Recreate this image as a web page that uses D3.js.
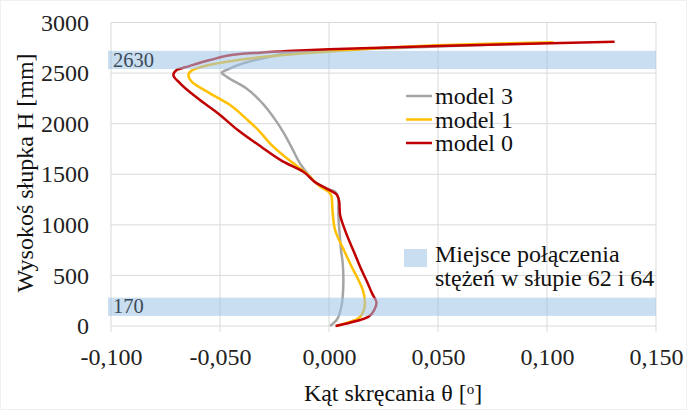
<!DOCTYPE html>
<html>
<head>
<meta charset="utf-8">
<script src="https://cdn.jsdelivr.net/npm/d3@7"></script>
<style>
  body { margin: 0; background: #fff; }
  text { font-family: "Liberation Serif", "Times New Roman", serif; }
</style>
</head>
<body>
<div id="chart"></div>
<script>
// data: theta [deg] and height H [mm], bottom to top
var model0Theta = [0.003, 0.018, 0.021, 0.0218, 0.0198, 0.0178, 0.015, 0.0119, 0.0073, 0.005, 0.0047, 0.0035, 0.0005, -0.0056, -0.0118, -0.021, -0.031, -0.042, -0.050, -0.0592, -0.0683, -0.0714, -0.0699, -0.066, -0.0546, -0.0408, -0.0317, -0.0164, 0.000, 0.050, 0.131];
var model0H     = [0, 90, 170, 230, 320, 420, 550, 710, 950, 1110, 1230, 1300, 1340, 1410, 1525, 1625, 1770, 1940, 2086, 2234, 2399, 2481, 2531, 2557, 2629, 2689, 2702, 2721, 2735, 2768, 2810];

var model1Theta = [0.0035, 0.0135, 0.0157, 0.0165, 0.0155, 0.0135, 0.0104, 0.0068, 0.0028, 0.0017, 0.0012, -0.0003, -0.0041, -0.0103, -0.0164, -0.0271, -0.0324, -0.0378, -0.0454, -0.0546, -0.063, -0.0645, -0.063, -0.0607, -0.0469, -0.0317, -0.0164, 0.005, 0.0693, 0.1029];
var model1H     = [0, 76, 141, 224, 356, 455, 586, 751, 949, 1114, 1278, 1328, 1380, 1509, 1608, 1806, 1937, 2045, 2185, 2300, 2415, 2481, 2524, 2547, 2613, 2656, 2686, 2721, 2788, 2804];

var model3Theta = [0.0005, 0.0035, 0.0053, 0.0063, 0.0066, 0.0063, 0.0055, 0.005, 0.0043, 0.0043, 0.0028, -0.0011, -0.0056, -0.0092, -0.0133, -0.0168, -0.0205, -0.025, -0.0305, -0.038, -0.0469, -0.0492, -0.0469, -0.0393, -0.0271, -0.0164, 0.005, 0.05, 0.098];
var model3H     = [0, 59, 158, 290, 455, 620, 751, 883, 1114, 1262, 1328, 1361, 1411, 1490, 1608, 1750, 1900, 2050, 2201, 2350, 2464, 2504, 2531, 2597, 2662, 2702, 2728, 2762, 2798];

var seriesNames = ["model 3", "model 1", "model 0"];
var seriesColors = ["#a5a5a5", "#ffc000", "#c00000"];

// bands: brace connections
var bandFrom = [100, 2540];
var bandTo = [280, 2720];
var bandLabels = ["170", "2630"];

var xTicks = [-0.1, -0.05, 0, 0.05, 0.1, 0.15];
var yTicks = [0, 500, 1000, 1500, 2000, 2500, 3000];

var svgWidth = 687;
var svgHeight = 410;
var margin = { top: 22.5, right: 31, bottom: 84, left: 111 };
var chartWidth = svgWidth - margin.left - margin.right;
var chartHeight = svgHeight - margin.top - margin.bottom;

var svg = d3.select("#chart")
    .append("svg")
    .attr("width", svgWidth)
    .attr("height", svgHeight);

svg.append("rect")
    .attr("x", 0.5).attr("y", 0.5)
    .attr("width", svgWidth - 1).attr("height", svgHeight - 1)
    .attr("fill", "none")
    .attr("stroke", "#f0f0f0");

var chart = svg.append("g").attr("transform", `translate(${margin.left},${margin.top})`);

var xScale = d3.scaleLinear().domain([-0.1, 0.15]).range([0, chartWidth]);
var yScale = d3.scaleLinear().domain([0, 3000]).range([chartHeight, 0]);

var locale = d3.formatLocale({ decimal: ",", thousands: "", grouping: [3], currency: ["", ""], minus: "-" });
var fmtX = locale.format(".3f");
var fmtY = locale.format("d");

// grid
chart.append("g")
    .selectAll("line")
    .data(yTicks)
    .enter()
    .append("line")
    .attr("x1", 0).attr("x2", chartWidth)
    .attr("y1", d => yScale(d)).attr("y2", d => yScale(d))
    .attr("stroke", "#d9d9d9")
    .attr("stroke-width", 1);

chart.append("g")
    .selectAll("line")
    .data(xTicks)
    .enter()
    .append("line")
    .attr("x1", d => xScale(d)).attr("x2", d => xScale(d))
    .attr("y1", 0).attr("y2", chartHeight + 6)
    .attr("stroke", "#d9d9d9")
    .attr("stroke-width", 1);

// axes (labels only)
var bottomAxis = d3.axisBottom(xScale).tickValues(xTicks).tickFormat(fmtX).tickSize(0).tickPadding(22);
var leftAxis = d3.axisLeft(yScale).tickValues(yTicks).tickFormat(fmtY).tickSize(0).tickPadding(22);

var gx = chart.append("g").attr("transform", `translate(0, ${chartHeight})`).call(bottomAxis);
var gy = chart.append("g").call(leftAxis);
[gx, gy].forEach(function(g) {
    g.attr("font-family", null);
    g.select(".domain").remove();
    g.selectAll("text")
        .attr("fill", "#222")
        .style("font-size", "24px");
});

// lines
var series = [
    { theta: model3Theta, h: model3H },
    { theta: model1Theta, h: model1H },
    { theta: model0Theta, h: model0H }
];

var line = d3.line()
    .x(d => xScale(d[0]))
    .y(d => yScale(d[1]))
    .curve(d3.curveMonotoneY);

series.forEach(function(s, i) {
    var pts = s.theta.map((t, j) => [t, s.h[j]]);
    chart.append("path")
        .datum(pts)
        .attr("d", line)
        .attr("fill", "none")
        .attr("stroke", seriesColors[i])
        .attr("stroke-width", 2.5)
        .attr("stroke-linejoin", "round");
});

// bands drawn over the lines
var bandFill = "#9dc3e6";
var bandOpacity = 0.55;
chart.append("g")
    .selectAll("rect")
    .data(bandFrom)
    .enter()
    .append("rect")
    .attr("x", -3)
    .attr("width", chartWidth + 3)
    .attr("y", (d, i) => yScale(bandTo[i]))
    .attr("height", (d, i) => yScale(d) - yScale(bandTo[i]))
    .attr("fill", bandFill)
    .attr("opacity", bandOpacity);

chart.append("g")
    .selectAll("text")
    .data(bandLabels)
    .enter()
    .append("text")
    .attr("x", 2)
    .attr("y", (d, i) => yScale(bandFrom[i]) - 2.5)
    .attr("fill", "#3d4a58")
    .style("font-size", "20.5px")
    .text(d => d);

// legend
var legend = chart.append("g").attr("transform", `translate(${406 - margin.left},${96 - margin.top})`);
seriesNames.forEach(function(name, i) {
    legend.append("line")
        .attr("x1", 0).attr("x2", 26)
        .attr("y1", i * 23.5).attr("y2", i * 23.5)
        .attr("stroke", seriesColors[i])
        .attr("stroke-width", 2.5);
    legend.append("text")
        .attr("x", 29)
        .attr("y", i * 23.5 + 8)
        .attr("fill", "#111")
        .style("font-size", "24px")
        .text(name);
});

var bandLegend = chart.append("g").attr("transform", `translate(${404 - margin.left},${249 - margin.top})`);
bandLegend.append("rect")
    .attr("width", 23).attr("height", 18)
    .attr("fill", bandFill)
    .attr("opacity", bandOpacity);
bandLegend.append("text")
    .attr("x", 31).attr("y", 13)
    .attr("fill", "#111")
    .style("font-size", "24px")
    .text("Miejsce połączenia");
bandLegend.append("text")
    .attr("x", 31).attr("y", 37)
    .attr("fill", "#111")
    .style("font-size", "24px")
    .text("stężeń w słupie 62 i 64");

// axis titles
svg.append("text")
    .attr("transform", "translate(33," + 173 + ") rotate(-90)")
    .style("text-anchor", "middle")
    .style("font-size", "24px")
    .attr("fill", "#111")
    .text("Wysokoś słupka H [mm]");

var xt = svg.append("text")
    .attr("x", 393)
    .attr("y", 401)
    .style("text-anchor", "middle")
    .style("font-size", "24px")
    .attr("fill", "#111");
xt.append("tspan").text("Kąt skręcania θ [");
xt.append("tspan").attr("dy", -7).style("font-size", "15px").text("o");
xt.append("tspan").attr("dy", 7).text("]");
</script>
</body>
</html>
